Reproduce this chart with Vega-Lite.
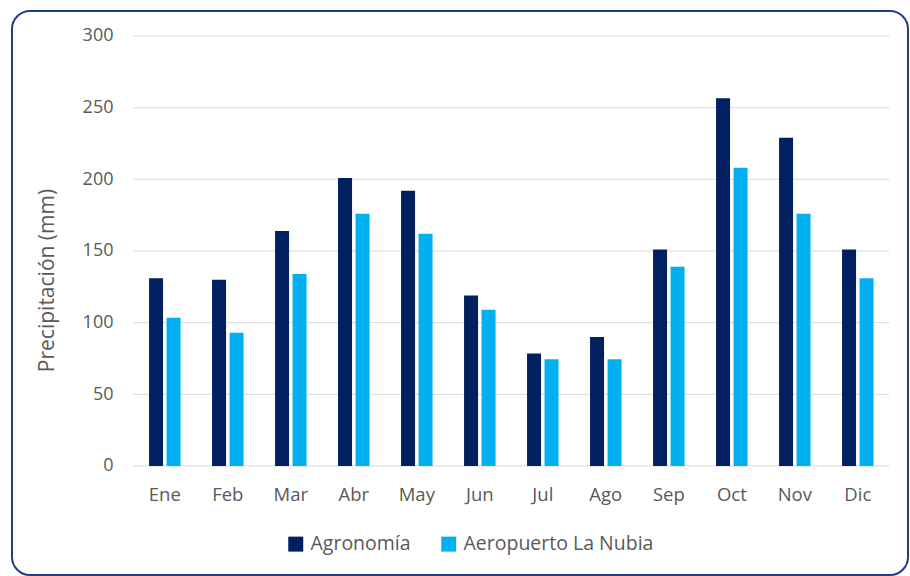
{
  "$schema": "https://vega.github.io/schema/vega-lite/v6.json",
  "width": 896,
  "height": 564,
  "autosize": {"type": "none"},
  "padding": {"left": 12, "top": 11, "right": 2, "bottom": 1},
  "background": "white",
  "config": {
    "font": "Open Sans",
    "view": {"stroke": "#1F3C88", "strokeWidth": 2, "cornerRadius": 18, "fill": "white"}
  },
  "datasets": {
    "grid": [{"g": 0}, {"g": 50}, {"g": 100}, {"g": 150}, {"g": 200}, {"g": 250}, {"g": 300}],
    "precip": [
      {"mes": "Ene", "estacion": "Agronomía", "valor": 131},
      {"mes": "Ene", "estacion": "Aeropuerto La Nubia", "valor": 103.5},
      {"mes": "Feb", "estacion": "Agronomía", "valor": 130},
      {"mes": "Feb", "estacion": "Aeropuerto La Nubia", "valor": 93},
      {"mes": "Mar", "estacion": "Agronomía", "valor": 164},
      {"mes": "Mar", "estacion": "Aeropuerto La Nubia", "valor": 134},
      {"mes": "Abr", "estacion": "Agronomía", "valor": 201},
      {"mes": "Abr", "estacion": "Aeropuerto La Nubia", "valor": 176},
      {"mes": "May", "estacion": "Agronomía", "valor": 192},
      {"mes": "May", "estacion": "Aeropuerto La Nubia", "valor": 162},
      {"mes": "Jun", "estacion": "Agronomía", "valor": 119},
      {"mes": "Jun", "estacion": "Aeropuerto La Nubia", "valor": 109},
      {"mes": "Jul", "estacion": "Agronomía", "valor": 78.5},
      {"mes": "Jul", "estacion": "Aeropuerto La Nubia", "valor": 74.5},
      {"mes": "Ago", "estacion": "Agronomía", "valor": 90},
      {"mes": "Ago", "estacion": "Aeropuerto La Nubia", "valor": 74.5},
      {"mes": "Sep", "estacion": "Agronomía", "valor": 151},
      {"mes": "Sep", "estacion": "Aeropuerto La Nubia", "valor": 139},
      {"mes": "Oct", "estacion": "Agronomía", "valor": 256.5},
      {"mes": "Oct", "estacion": "Aeropuerto La Nubia", "valor": 208},
      {"mes": "Nov", "estacion": "Agronomía", "valor": 229},
      {"mes": "Nov", "estacion": "Aeropuerto La Nubia", "valor": 176},
      {"mes": "Dic", "estacion": "Agronomía", "valor": 151},
      {"mes": "Dic", "estacion": "Aeropuerto La Nubia", "valor": 131}
    ]
  },
  "layer": [
    {
      "data": {"name": "grid"},
      "mark": {"type": "rule", "color": "#D9D9D9", "strokeWidth": 1},
      "encoding": {
        "y": {
          "field": "g",
          "type": "quantitative",
          "axis": {
            "values": [0, 50, 100, 150, 200, 250, 300],
            "grid": false,
            "domain": false,
            "ticks": false,
            "tickSize": 0,
            "labelPadding": 0,
            "offset": -101,
            "labelFontSize": 18,
            "labelColor": "#595959",
            "labelFont": "Open Sans",
            "title": "Precipitación (mm)",
            "titleFont": "Open Sans",
            "titleFontSize": 21,
            "titleFontWeight": "normal",
            "titleColor": "#595959",
            "titleX": -66,
            "titleY": 269,
            "titleAngle": -90,
            "titleAlign": "center",
            "titleBaseline": "middle"
          }
        },
        "x": {
          "datum": "Ene",
          "type": "nominal",
          "bandPosition": -0.5,
          "axis": {
            "title": null,
            "labelAngle": 0,
            "domain": false,
            "ticks": false,
            "tickSize": 0,
            "labelPadding": 0,
            "offset": -90,
            "labelFontSize": 18.5,
            "labelColor": "#595959",
            "labelFont": "Open Sans"
          }
        },
        "x2": {"datum": "Dic", "bandPosition": 1.5}
      }
    },
    {
      "data": {"name": "precip"},
      "mark": {"type": "bar"},
      "encoding": {
        "x": {
          "field": "mes",
          "type": "nominal",
          "scale": {
            "domain": ["Ene", "Feb", "Mar", "Abr", "May", "Jun", "Jul", "Ago", "Sep", "Oct", "Nov", "Dic"],
            "range": [121.3, 877.3],
            "paddingInner": 0.5,
            "paddingOuter": 0.25,
            "round": false
          },
          "axis": {
            "title": null,
            "labelAngle": 0,
            "domain": false,
            "ticks": false,
            "tickSize": 0,
            "labelPadding": 0,
            "offset": -90,
            "labelFontSize": 18.5,
            "labelColor": "#595959",
            "labelFont": "Open Sans"
          }
        },
        "xOffset": {
          "field": "estacion",
          "type": "nominal",
          "sort": ["Agronomía", "Aeropuerto La Nubia"],
          "scale": {"paddingInner": 0.2, "paddingOuter": 0, "round": false}
        },
        "y": {
          "field": "valor",
          "type": "quantitative",
          "scale": {"domain": [-76.05, 317.44], "nice": false, "zero": false},
          "axis": {
            "values": [0, 50, 100, 150, 200, 250, 300],
            "grid": false,
            "domain": false,
            "ticks": false,
            "tickSize": 0,
            "labelPadding": 0,
            "offset": -101,
            "labelFontSize": 18,
            "labelColor": "#595959",
            "labelFont": "Open Sans",
            "title": "Precipitación (mm)",
            "titleFont": "Open Sans",
            "titleFontSize": 21,
            "titleFontWeight": "normal",
            "titleColor": "#595959",
            "titleX": -66,
            "titleY": 269,
            "titleAngle": -90,
            "titleAlign": "center",
            "titleBaseline": "middle"
          }
        },
        "color": {
          "field": "estacion",
          "type": "nominal",
          "scale": {"domain": ["Agronomía", "Aeropuerto La Nubia"], "range": ["#002060", "#00B0F0"]},
          "legend": {
            "title": null,
            "orient": "none",
            "legendX": 274,
            "legendY": 523,
            "direction": "horizontal",
            "symbolType": "square",
            "symbolSize": 225,
            "symbolStrokeWidth": 0,
            "labelFontSize": 19.5,
            "labelFont": "Open Sans",
            "labelColor": "#595959",
            "labelOffset": 5,
            "labelLimit": 400,
            "columnPadding": 28
          }
        }
      }
    }
  ]
}
